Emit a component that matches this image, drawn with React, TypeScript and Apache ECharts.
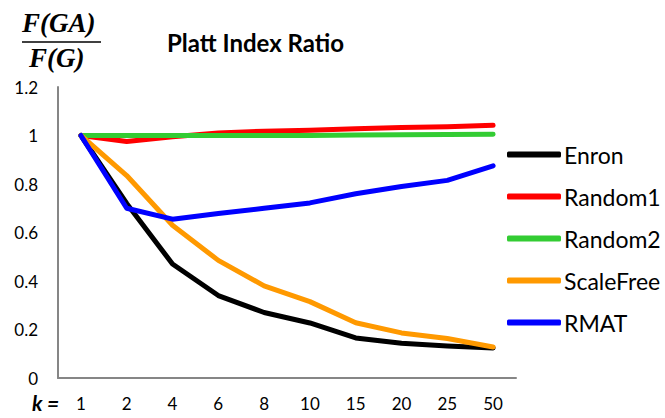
import React, { useEffect, useRef } from "react";
import * as echarts from "echarts";

const categories = ["1", "2", "4", "6", "8", "10", "15", "20", "25", "50"];
const enron = [1, 0.72, 0.47, 0.34, 0.27, 0.227, 0.165, 0.143, 0.132, 0.124];
const random1 = [1, 0.975, 0.995, 1.01, 1.018, 1.022, 1.028, 1.033, 1.036, 1.042];
const random2 = [1, 1, 1, 1, 1, 1, 1.002, 1.003, 1.004, 1.005];
const scaleFree = [1, 0.835, 0.63, 0.485, 0.38, 0.315, 0.228, 0.186, 0.163, 0.128];
const rmat = [1, 0.7, 0.655, 0.678, 0.7, 0.722, 0.76, 0.79, 0.815, 0.875];
const yTicks = [0, 0.2, 0.4, 0.6, 0.8, 1, 1.2];

const seriesDefs = [
  { name: "Enron", data: enron, color: "#000000" },
  { name: "Random1", data: random1, color: "#ff0000" },
  { name: "Random2", data: random2, color: "#33cc33" },
  { name: "ScaleFree", data: scaleFree, color: "#ff9900" },
  { name: "RMAT", data: rmat, color: "#0000ff" },
];

const font = "Lato, 'Open Sans', sans-serif";
const mathFont = "italic bold 27px 'Liberation Serif', 'DejaVu Serif', serif";

export default function App() {
  const ref = useRef<HTMLDivElement>(null);
  useEffect(() => {
    if (!ref.current) return;
    const chart = echarts.init(ref.current, undefined, { renderer: "svg" });
    chart.setOption({
      animation: false,
      backgroundColor: "#ffffff",
      grid: { left: 58, right: 149, top: 87, bottom: 40, containLabel: false },
      title: {
        text: "Platt Index Ratio",
        left: 162,
        top: 25,
        textStyle: { fontFamily: font, fontSize: 24, fontWeight: "bold", color: "#000" },
      },
      graphic: [
        {
          type: "text",
          left: 22,
          top: 9,
          style: { text: "F(GA)", font: mathFont, fill: "#000" },
        },
        {
          type: "line",
          shape: { x1: 22, y1: 42, x2: 101, y2: 42 },
          style: { stroke: "#000", lineWidth: 1.5 },
        },
        {
          type: "text",
          left: 29,
          top: 44,
          style: { text: "F(G)", font: mathFont, fill: "#000" },
        },
        {
          type: "text",
          left: 32,
          top: 392,
          style: {
            text: "k =",
            font: "italic bold 21px " + font,
            fill: "#000",
          },
        },
      ],
      legend: {
        orient: "vertical",
        left: 502,
        top: 138,
        itemWidth: 54,
        itemHeight: 6,
        itemGap: 19,
        icon: "roundRect",
        data: seriesDefs.map((s) => ({
          name: s.name,
          itemStyle: { color: s.color },
        })),
        textStyle: { fontFamily: font, fontSize: 23, color: "#000", padding: [0, 0, 0, -2] },
      },
      xAxis: {
        type: "category",
        data: categories,
        boundaryGap: true,
        axisLine: { lineStyle: { color: "#868686", width: 2 } },
        axisTick: { show: false },
        axisLabel: { color: "#000", fontFamily: font, fontSize: 17, margin: 17 },
      },
      yAxis: {
        type: "value",
        min: 0,
        max: 1.2,
        interval: 0.2,
        axisLine: { show: true, lineStyle: { color: "#868686", width: 2 } },
        axisTick: { show: false },
        splitLine: { show: false },
        axisLabel: {
          color: "#000",
          fontFamily: font,
          fontSize: 17,
          margin: 20,
          formatter: (v: number) => {
            const t = yTicks.find((x) => Math.abs(x - v) < 1e-6);
            return t === undefined ? "" : String(t);
          },
        },
      },
      series: seriesDefs.map((s) => ({
        name: s.name,
        type: "line",
        data: s.data,
        symbol: "none",
        lineStyle: { color: s.color, width: 5, cap: "round", join: "round" },
        itemStyle: { color: s.color },
      })),
    });
    return () => chart.dispose();
  }, []);
  return <div ref={ref} style={{ width: 665, height: 418, position: "absolute", left: 0, top: 0 }} />;
}
